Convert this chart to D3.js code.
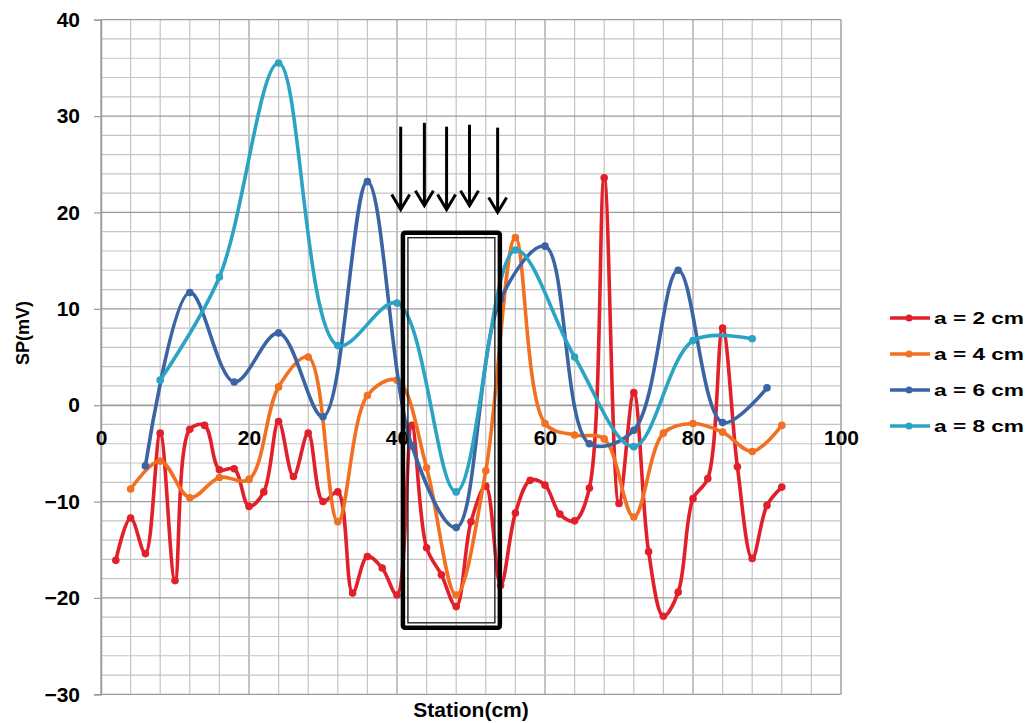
<!DOCTYPE html>
<html>
<head>
<meta charset="utf-8">
<script src="https://cdn.jsdelivr.net/npm/d3@7"></script>
<style>
  html, body { margin: 0; padding: 0; background: #fff; }
  svg { display: block; font-family: "Liberation Sans", Arial, sans-serif; }
</style>
</head>
<body>
<svg id="chart" width="1032" height="723"></svg>
<script>
// Self-potential profiles along the station line for four electrode spacings
const stations2 = d3.range(2, 93, 2);
const sp2 = [-16.1, -11.7, -15.4, -2.9, -18.2, -2.5, -2.1, -6.7, -6.6, -10.5,
             -9.0, -1.7, -7.4, -2.9, -10.0, -9.0, -19.5, -15.7, -16.9, -19.7,
             -2.1, -14.8, -17.6, -20.9, -12.1, -8.4, -18.7, -11.2, -7.8, -8.3,
             -11.3, -12.0, -8.6, 23.6, -10.2, 1.3, -15.2, -21.9, -19.4, -9.7,
             -7.6, 8.0, -6.4, -15.9, -10.4, -8.5];

const stations4 = d3.range(4, 93, 4);
const sp4 = [-8.7, -5.8, -9.6, -7.5, -7.7, 1.9, 5.0, -12.1, 1.0, 2.6,
             -6.5, -19.7, -6.8, 17.4, -1.9, -3.1, -3.5, -11.6, -2.9, -1.9,
             -2.8, -4.8, -2.1];

const stations6 = d3.range(6, 91, 6);
const sp6 = [-6.3, 11.7, 2.4, 7.5, -1.2, 23.2, -4.2, -12.7, 11.0, 16.5,
             -4.0, -2.6, 14.0, -1.8, 1.8];

const stations8 = d3.range(8, 89, 8);
const sp8 = [2.6, 13.3, 35.5, 6.2, 10.6, -9.0, 16.1, 5.0, -4.3, 6.7, 6.9];

const seriesNames = ["a = 2 cm", "a = 4 cm", "a = 6 cm", "a = 8 cm"];
const seriesColors = ["#e2202a", "#f27022", "#3b64a4", "#2ba4c3"];

const xTickLabels = [0, 20, 40, 60, 80, 100];
const yTickLabels = [40, 30, 20, 10, 0, -10, -20, -30];

// Anomaly zone (station range, SP range) and the arrows pointing at it
const zoneX = [40.8, 53.9];
const zoneY = [17.9, -23.1];
const arrowX = [40.5, 43.7, 46.7, 49.8, 53.6];
const arrowTop = [28.9, 29.3, 28.9, 29.1, 28.8];
const arrowTip = [20.3, 20.7, 20.3, 20.7, 20.0];

const series = [
  {name: seriesNames[0], color: seriesColors[0], pts: stations2.map((s, i) => [s, sp2[i]])},
  {name: seriesNames[1], color: seriesColors[1], pts: stations4.map((s, i) => [s, sp4[i]])},
  {name: seriesNames[2], color: seriesColors[2], pts: stations6.map((s, i) => [s, sp6[i]])},
  {name: seriesNames[3], color: seriesColors[3], pts: stations8.map((s, i) => [s, sp8[i]])}
];

const svg = d3.select("#chart");
const x = d3.scaleLinear().domain([0, 100]).range([101, 841]);
const y = d3.scaleLinear().domain([-30, 40]).range([694.3, 19.7]);

// Grid
const grid = svg.append("g");
d3.range(0, 101, 4).forEach(v => {
  grid.append("line")
    .attr("x1", x(v)).attr("x2", x(v)).attr("y1", y(40)).attr("y2", y(-30))
    .attr("stroke", v % 20 === 0 ? "#9a9a9a" : "#c4c4c4").attr("stroke-width", 1.2);
});
d3.range(-30, 41, 2).forEach(v => {
  grid.append("line")
    .attr("x1", x(0)).attr("x2", x(100)).attr("y1", y(v)).attr("y2", y(v))
    .attr("stroke", v % 10 === 0 ? "#9a9a9a" : "#c4c4c4").attr("stroke-width", 1.2);
});
// Right border
grid.append("line").attr("x1", x(100)).attr("x2", x(100)).attr("y1", y(40)).attr("y2", y(-30))
  .attr("stroke", "#b0b0b0").attr("stroke-width", 1.2);

// Y axis
const yAxis = d3.axisLeft(y).tickValues(yTickLabels).tickSize(7).tickPadding(14).tickFormat(d3.format("d"));
const gy = svg.append("g").attr("transform", `translate(${x(0)},0)`).call(yAxis);
gy.select(".domain").attr("stroke", "#9a9a9a").attr("stroke-width", 1.5);
gy.selectAll(".tick line").attr("stroke", "#9a9a9a").attr("stroke-width", 1.2);
gy.selectAll(".tick text").attr("font-size", 21).attr("font-weight", "bold")
  .attr("fill", "#000").attr("font-family", "'Liberation Sans', Arial, sans-serif");

// X axis crossing at SP = 0, labels below the zero line
const xAxis = d3.axisBottom(x).tickValues(xTickLabels).tickSize(0).tickPadding(24).tickFormat(d3.format("d"));
const gx = svg.append("g").attr("transform", `translate(0,${y(0)})`).call(xAxis);
gx.select(".domain").attr("stroke", "#9a9a9a").attr("stroke-width", 1.2);
gx.selectAll(".tick text").attr("font-size", 21).attr("font-weight", "bold")
  .attr("fill", "#000").attr("dy", "0").attr("font-family", "'Liberation Sans', Arial, sans-serif")
  .attr("y", 40);

// Axis titles
svg.append("text").attr("transform", "translate(29,333) rotate(-90)")
  .attr("text-anchor", "middle").attr("font-size", 18).attr("font-weight", "bold").text("SP(mV)");
svg.append("text").attr("x", 471).attr("y", 717)
  .attr("text-anchor", "middle").attr("font-size", 21).attr("font-weight", "bold").text("Station(cm)");

// Series
const line = d3.line().x(d => x(d[0])).y(d => y(d[1])).curve(d3.curveCatmullRom.alpha(0.5));
const gs = svg.append("g");
series.forEach(s => {
  gs.append("path").attr("d", line(s.pts)).attr("fill", "none")
    .attr("stroke", s.color).attr("stroke-width", 3.6).attr("stroke-linejoin", "round");
  gs.selectAll(null).data(s.pts).enter().append("circle")
    .attr("cx", d => x(d[0])).attr("cy", d => y(d[1])).attr("r", 3.8).attr("fill", s.color);
});

// Anomaly zone box (double outline)
svg.append("rect")
  .attr("x", x(zoneX[0])).attr("y", y(zoneY[0]))
  .attr("width", x(zoneX[1]) - x(zoneX[0])).attr("height", y(zoneY[1]) - y(zoneY[0]))
  .attr("rx", 2).attr("fill", "none").attr("stroke", "#000").attr("stroke-width", 4.5);
svg.append("rect")
  .attr("x", x(zoneX[0]) + 5).attr("y", y(zoneY[0]) + 5)
  .attr("width", x(zoneX[1]) - x(zoneX[0]) - 10).attr("height", y(zoneY[1]) - y(zoneY[0]) - 10)
  .attr("fill", "none").attr("stroke", "#222").attr("stroke-width", 1.4);

// Arrows
const ga = svg.append("g").attr("stroke", "#000").attr("stroke-width", 3).attr("fill", "none");
arrowX.forEach((ax, i) => {
  const px = x(ax), top = y(arrowTop[i]), tip = y(arrowTip[i]);
  ga.append("line").attr("x1", px).attr("x2", px).attr("y1", top).attr("y2", tip - 1);
  ga.append("path").attr("d", `M${px - 9},${tip - 15} L${px},${tip} L${px + 9},${tip - 15}`)
    .attr("stroke-linejoin", "miter");
});

// Legend
const lg = svg.append("g");
series.forEach((s, i) => {
  const ly = 318 + i * 36;
  lg.append("line").attr("x1", 890).attr("x2", 930).attr("y1", ly).attr("y2", ly)
    .attr("stroke", s.color).attr("stroke-width", 3.4);
  lg.append("circle").attr("cx", 909).attr("cy", ly).attr("r", 3.6).attr("fill", s.color);
  lg.append("text").attr("x", 934).attr("y", ly + 6).attr("font-size", 17).attr("font-weight", "bold")
    .attr("textLength", 90).attr("lengthAdjust", "spacingAndGlyphs").text(s.name);
});
</script>
</body>
</html>
